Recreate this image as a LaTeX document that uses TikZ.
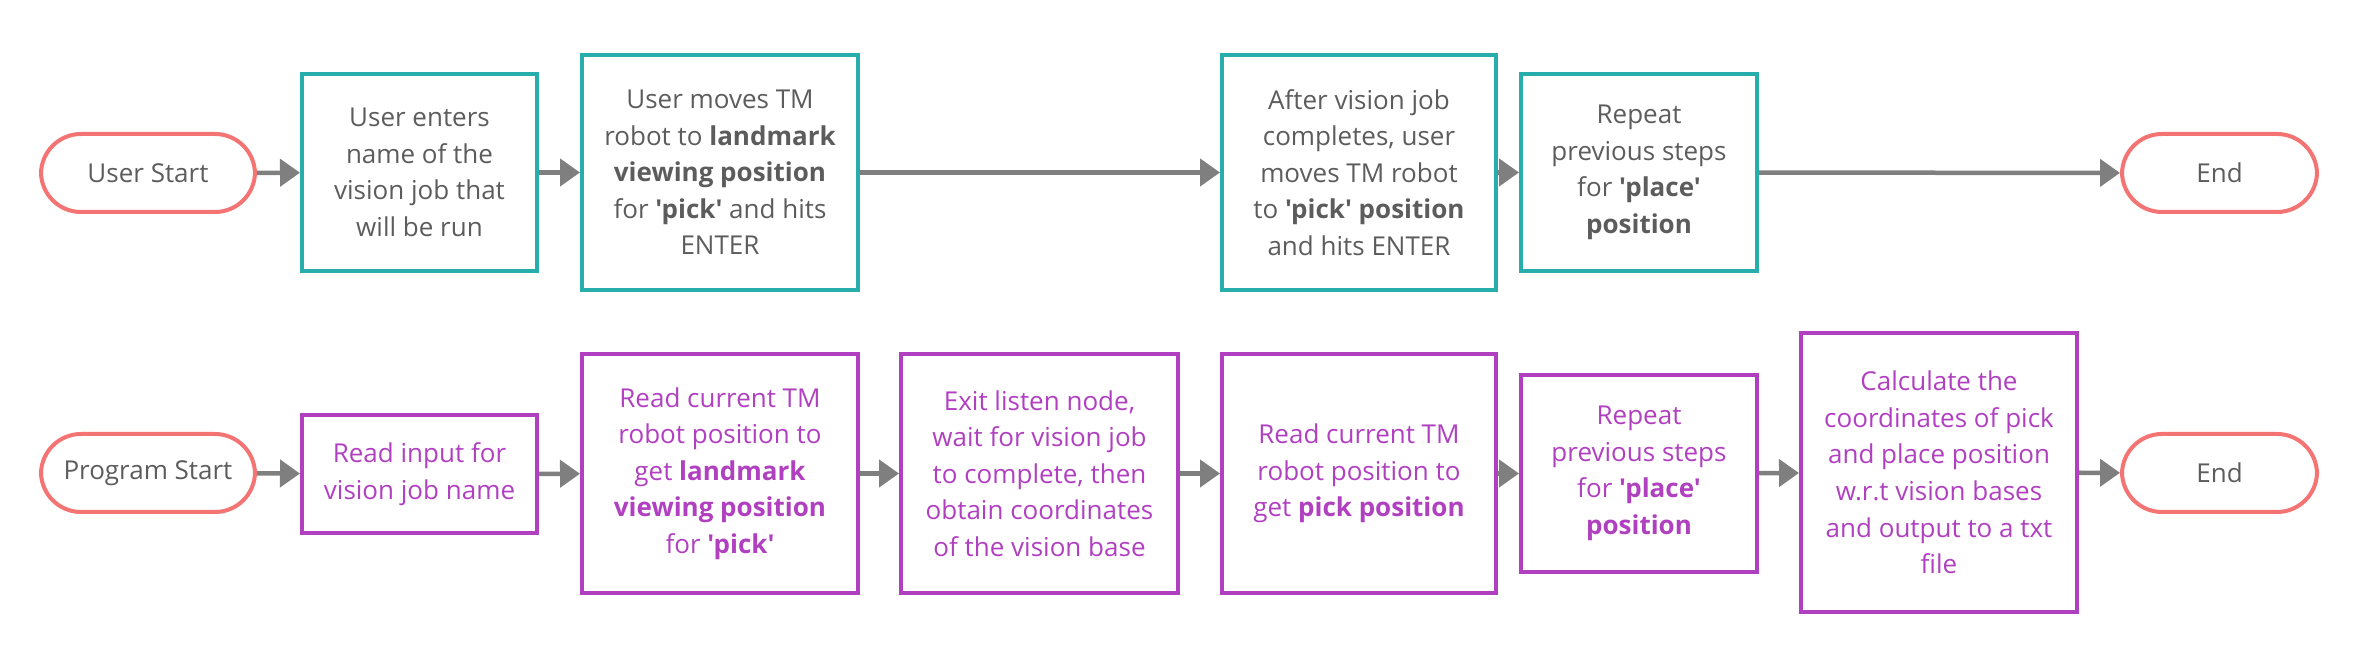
\documentclass[tikz,border=0pt]{standalone}
\usepackage{fontspec}
\setmainfont{Open Sans}[Ligatures=TeXOff]
\usetikzlibrary{arrows.meta}

\definecolor{termred}{HTML}{F47373}
\definecolor{userteal}{HTML}{26ADAC}
\definecolor{progpurple}{HTML}{B040C0}
\definecolor{txtgray}{HTML}{5C5C5C}
\definecolor{arrowgray}{HTML}{7F7F7F}

\tikzset{
  every node/.style={font=\fontsize{7.4}{10.4}\selectfont, align=center, inner sep=0pt},
  term/.style={draw=termred, line width=0.04cm, rounded corners=0.4cm, minimum height=0.78cm, text=txtgray},
  ubox/.style={draw=userteal, line width=0.04cm, text=txtgray},
  pbox/.style={draw=progpurple, line width=0.04cm, text=progpurple},
  flow/.style={draw=arrowgray, line width=0.045cm, -{Triangle[length=0.2cm,width=0.27cm]}},
}

\begin{document}
\begin{tikzpicture}
    \useasboundingbox (0,0) rectangle (23.61,-6.53);
    % user row
    \node[term, minimum width=2.14cm] (ustart) at (1.48,-1.73) {User Start};
    \node[ubox, minimum width=2.35cm, minimum height=1.97cm] (u1) at (4.195,-1.725)
        {User enters\\name of the\\vision job that\\will be run};
    \node[ubox, minimum width=2.76cm, minimum height=2.35cm] (u2) at (7.20,-1.725)
        {User moves TM\\robot to \textbf{landmark}\\\textbf{viewing position}\\for \textbf{'pick'} and hits\\ENTER};
    \node[ubox, minimum width=2.74cm, minimum height=2.35cm] (u3) at (13.59,-1.725)
        {After vision job\\completes, user\\moves TM robot\\to \textbf{'pick' position}\\and hits ENTER};
    \node[ubox, minimum width=2.36cm, minimum height=1.97cm] (u4) at (16.39,-1.725)
        {Repeat\\previous steps\\for \textbf{'place'}\\\textbf{position}};
    \node[term, minimum width=1.95cm] (uend) at (22.195,-1.73) {End};
    % program row
    \node[term, minimum width=2.14cm] (pstart) at (1.48,-4.73) {Program Start};
    \node[pbox, minimum width=2.35cm, minimum height=1.18cm] (p1) at (4.195,-4.74)
        {Read input for\\vision job name};
    \node[pbox, minimum width=2.76cm, minimum height=2.39cm] (p2) at (7.20,-4.735)
        {Read current TM\\robot position to\\get \textbf{landmark}\\\textbf{viewing position}\\for \textbf{'pick'}};
    \node[pbox, minimum width=2.77cm, minimum height=2.39cm] (p3) at (10.395,-4.735)
        {Exit listen node,\\wait for vision job\\to complete, then\\obtain coordinates\\of the vision base};
    \node[pbox, minimum width=2.74cm, minimum height=2.39cm] (p4) at (13.59,-4.735)
        {Read current TM\\robot position to\\get \textbf{pick position}};
    \node[pbox, minimum width=2.36cm, minimum height=1.97cm] (p5) at (16.39,-4.735)
        {Repeat\\previous steps\\for \textbf{'place'}\\\textbf{position}};
    \node[pbox, minimum width=2.76cm, minimum height=2.79cm] (p6) at (19.39,-4.725)
        {Calculate the\\coordinates of pick\\and place position\\w.r.t vision bases\\and output to a txt\\file};
    \node[term, minimum width=1.95cm] (pend) at (22.195,-4.73) {End};
    % arrows
    \foreach \a/\b in {ustart/u1,u1/u2,u2/u3,u3/u4,u4/uend,pstart/p1,p1/p2,p2/p3,p3/p4,p4/p5,p5/p6,p6/pend}
    \draw[flow] (\a) -- (\b);
\end{tikzpicture}
\end{document}
